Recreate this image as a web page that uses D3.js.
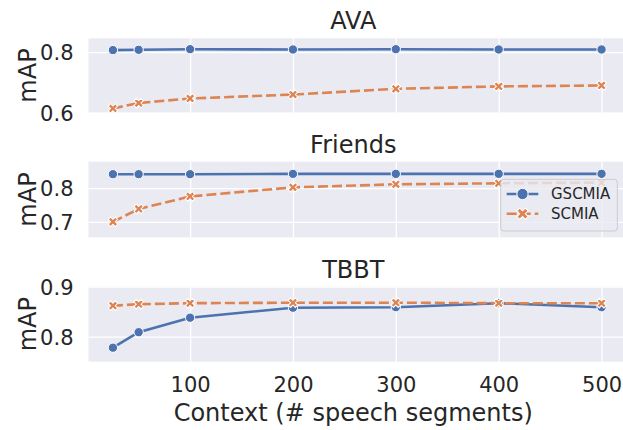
<!DOCTYPE html>
<html>
<head>
<meta charset="utf-8">
<script src="https://cdn.jsdelivr.net/npm/d3@7"></script>
<style>
  html, body { margin: 0; padding: 0; background: #ffffff; }
  svg { display: block; font-family: "DejaVu Sans", sans-serif; }
</style>
</head>
<body>
<svg id="chart" width="623" height="430"></svg>
<script>
// ---- data ----
const contexts = [25, 50, 100, 200, 300, 400, 500];
const xTicks = [100, 200, 300, 400, 500];
const panelTitles = ["AVA", "Friends", "TBBT"];
const seriesNames = ["GSCMIA", "SCMIA"];

const avaGSCMIA = [0.807, 0.808, 0.810, 0.809, 0.810, 0.809, 0.809];
const avaSCMIA = [0.614, 0.632, 0.647, 0.660, 0.679, 0.687, 0.690];
const friendsGSCMIA = [0.841, 0.841, 0.841, 0.842, 0.842, 0.842, 0.842];
const friendsSCMIA = [0.700, 0.738, 0.775, 0.802, 0.811, 0.814, 0.816];
const tbbtGSCMIA = [0.778, 0.809, 0.838, 0.858, 0.859, 0.867, 0.859];
const tbbtSCMIA = [0.862, 0.865, 0.867, 0.868, 0.868, 0.867, 0.867];

const yTicksAVA = [0.6, 0.8];
const yTicksFriends = [0.7, 0.8];
const yTicksTBBT = [0.8, 0.9];

const yDomainAVA = [0.6, 0.846];
const yDomainFriends = [0.654, 0.878];
const yDomainTBBT = [0.75, 0.9];

const xLabel = "Context (# speech segments)";
const yLabel = "mAP";

// ---- layout ----
const colors = ["#4c72b0", "#dd8452"];
const panels = [
  { title: panelTitles[0], series: [avaGSCMIA, avaSCMIA], ticks: yTicksAVA, domain: yDomainAVA, top: 38.3, bottom: 112.7 },
  { title: panelTitles[1], series: [friendsGSCMIA, friendsSCMIA], ticks: yTicksFriends, domain: yDomainFriends, top: 161.7, bottom: 237.3 },
  { title: panelTitles[2], series: [tbbtGSCMIA, tbbtSCMIA], ticks: yTicksTBBT, domain: yDomainTBBT, top: 286.7, bottom: 361.7 }
];
const plotLeft = 88.5, plotRight = 626;

const svg = d3.select("#chart");
const x = d3.scaleLinear().domain([1.25, 523.75]).range([plotLeft, plotRight]);

const xSym = d3.symbol().type(d3.symbolCross).size(56);
const cSym = d3.symbol().type(d3.symbolCircle).size(68);
const xSymL = d3.symbol().type(d3.symbolCross).size(80);
const cSymL = d3.symbol().type(d3.symbolCircle).size(100);

panels.forEach((p, pi) => {
  const y = d3.scaleLinear().domain(p.domain).range([p.bottom, p.top]);
  const g = svg.append("g");

  g.append("rect")
    .attr("x", plotLeft).attr("y", p.top)
    .attr("width", plotRight - plotLeft).attr("height", p.bottom - p.top)
    .attr("fill", "#eaeaf2");

  const gx = g.append("g").attr("transform", `translate(0,${p.bottom})`)
    .call(d3.axisBottom(x).tickValues(xTicks).tickSize(-(p.bottom - p.top)).tickFormat(pi === 2 ? d3.format("d") : () => ""));
  gx.select(".domain").remove();
  gx.selectAll("line").attr("stroke", "#ffffff").attr("stroke-width", 1.3);
  gx.selectAll("text").attr("fill", "#262626").attr("font-size", 21).attr("dy", null).attr("y", 30)
    .attr("font-family", "DejaVu Sans");

  const gy = g.append("g").attr("transform", `translate(${plotLeft},0)`)
    .call(d3.axisLeft(y).tickValues(p.ticks).tickSize(-(plotRight - plotLeft)).tickFormat(d3.format(".1f")));
  gy.select(".domain").remove();
  gy.selectAll("line").attr("stroke", "#ffffff").attr("stroke-width", 1.3);
  gy.selectAll("text").attr("fill", "#262626").attr("font-size", 21).attr("x", -15).attr("dy", "0.36em")
    .attr("font-family", "DejaVu Sans");

  g.append("text")
    .attr("x", (plotLeft + plotRight) / 2 - 4).attr("y", p.top - 9)
    .attr("text-anchor", "middle").attr("font-size", 24).attr("fill", "#262626")
    .text(p.title);

  g.append("text")
    .attr("transform", `translate(36,${(p.top + p.bottom) / 2}) rotate(-90)`)
    .attr("text-anchor", "middle").attr("font-size", 24).attr("fill", "#262626")
    .text(yLabel);

  p.series.forEach((vals, si) => {
    const line = d3.line().x((d, i) => x(contexts[i])).y(d => y(d));
    g.append("path").datum(vals)
      .attr("d", line).attr("fill", "none")
      .attr("stroke", colors[si]).attr("stroke-width", 2.6)
      .attr("stroke-dasharray", si === 1 ? "10,4" : null);
    const mk = g.append("g");
    vals.forEach((v, i) => {
      mk.append("path")
        .attr("d", si === 0 ? cSym() : xSym())
        .attr("transform", `translate(${x(contexts[i])},${y(v)})` + (si === 1 ? " rotate(45)" : ""))
        .attr("fill", colors[si]).attr("stroke", "#ffffff").attr("stroke-width", 1);
    });
  });
});

svg.append("text")
  .attr("x", (plotLeft + plotRight) / 2 - 4).attr("y", 421)
  .attr("text-anchor", "middle").attr("font-size", 24).attr("fill", "#262626")
  .text(xLabel);

// legend
const lg = svg.append("g");
lg.append("rect")
  .attr("x", 500.7).attr("y", 179.3).attr("width", 116.6).attr("height", 51.7)
  .attr("rx", 3).attr("fill", "#eaeaf2").attr("fill-opacity", 0.8)
  .attr("stroke", "#cccccc").attr("stroke-width", 1);
seriesNames.forEach((name, i) => {
  const yy = 194 + i * 19.7;
  lg.append("line").attr("x1", 506.7).attr("x2", 538.3).attr("y1", yy).attr("y2", yy)
    .attr("stroke", colors[i]).attr("stroke-width", 2.6)
    .attr("stroke-dasharray", i === 1 ? "10,4" : null);
  lg.append("path")
    .attr("d", i === 0 ? cSymL() : xSymL())
    .attr("transform", `translate(522.5,${yy})` + (i === 1 ? " rotate(45)" : ""))
    .attr("fill", colors[i]).attr("stroke", "#ffffff").attr("stroke-width", 1);
  lg.append("text").attr("x", 551).attr("y", yy + 5.4)
    .attr("font-size", 15).attr("fill", "#262626").text(name);
});
</script>
</body>
</html>
